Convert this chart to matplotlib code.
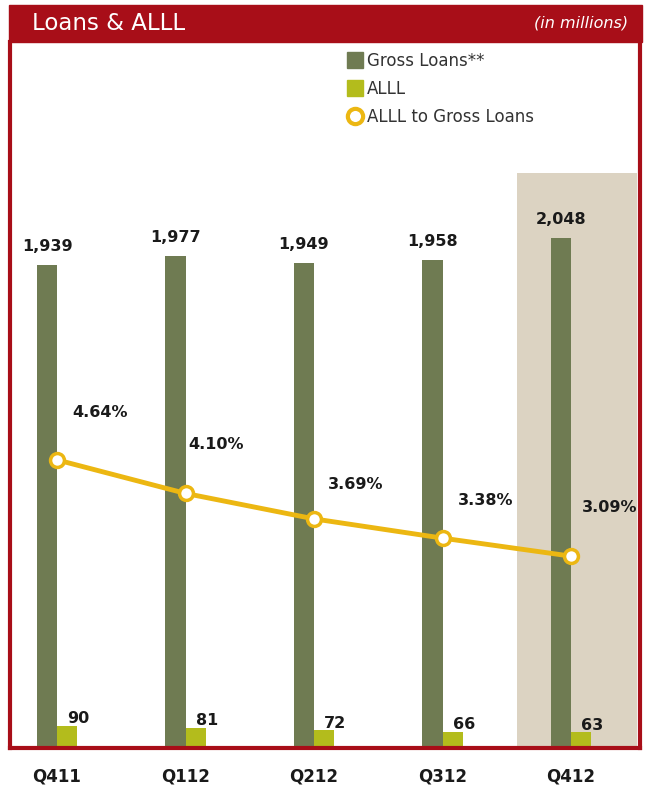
import matplotlib
matplotlib.use('Agg')
import matplotlib.pyplot as plt
from matplotlib.patches import Rectangle
from matplotlib.lines import Line2D
import numpy as np

# data
quarters = ['Q411', 'Q112', 'Q212', 'Q312', 'Q412']
gross_loans = [1939, 1977, 1949, 1958, 2048]
alll = [90, 81, 72, 66, 63]
alll_ratio = [4.64, 4.10, 3.69, 3.38, 3.09]

# colours
RED = '#A80E18'
OLIVE = '#6F7B52'
LIME = '#B3BC1C'
GOLD = '#ECB712'
BEIGE = '#DCD3C2'

plt.rcParams['font.family'] = ['DejaVu Sans']

W, H = 647, 788
fig = plt.figure(figsize=(W / 100, H / 100), dpi=100)
fig.patch.set_facecolor('white')

# plot area (pixels: x 10..640, y 42..748)
ax = fig.add_axes([10 / W, 40 / H, 630 / W, 706 / H])
x = np.arange(len(quarters))
w = 0.156

ax.set_xlim(-0.366, 4.537)
ax.set_ylim(0, 2835)

# highlight latest quarter
ax.axvspan(x[-1] - 0.42, x[-1] + 0.51, ymin=0, ymax=0.815, color=BEIGE, zorder=0, lw=0)

ax.bar(x - w / 2, gross_loans, width=w, color=OLIVE, zorder=2)
ax.bar(x + w / 2, alll, width=w, color=LIME, zorder=2)

for xi, v in zip(x, gross_loans):
    ax.annotate(f'{v:,}', (xi - w / 2, v), xytext=(0, 8), textcoords='offset points',
                ha='center', va='bottom', fontsize=11.5, fontweight='bold', color='#1a1a1a')
for xi, v in zip(x, alll):
    ax.annotate(f'{v}', (xi + w / 2, v), xytext=(0, 5), textcoords='offset points',
                ha='left', va='center', fontsize=11.5, fontweight='bold', color='#1a1a1a')

ax.set_xticks(x)
ax.set_xticklabels(quarters, fontsize=12, fontweight='bold', color='#1a1a1a')
ax.tick_params(axis='x', length=0, pad=14)
ax.set_yticks([])

for s in ['left', 'right', 'bottom']:
    ax.spines[s].set_color(RED)
    ax.spines[s].set_linewidth(3)
ax.spines['top'].set_visible(False)

# ratio line on a second scale
ax2 = ax.twinx()
ax2.set_ylim(0, 11.37)
ax2.set_yticks([])
for s in ax2.spines.values():
    s.set_visible(False)
ax2.plot(x, alll_ratio, color=GOLD, lw=3.5, marker='o', markersize=10,
         markerfacecolor='white', markeredgecolor=GOLD, markeredgewidth=2.5, zorder=3)

pct_offsets = [(31, 34), (22, 35), (30, 25), (31, 27), (28, 35)]
for xi, v, (dx, dy) in zip(x, alll_ratio, pct_offsets):
    ax2.annotate(f'{v:.2f}%', (xi, v), xytext=(dx, dy), textcoords='offset points',
                 ha='center', va='center', fontsize=11.5, fontweight='bold', color='#1a1a1a')

# header band
fig.patches.append(Rectangle((8.5 / W, (H - 42) / H), 633 / W, 37 / H,
                             transform=fig.transFigure, color=RED, zorder=0))
fig.text(32 / W, 1 - 24 / H, 'Loans & ALLL', color='white', fontsize=16.5, va='center', ha='left')
fig.text(628 / W, 1 - 23 / H, '(in millions)', color='white', fontsize=11.5,
         style='italic', va='center', ha='right')

# legend
handles = [
    Line2D([], [], marker='s', color=OLIVE, linestyle='none', markersize=11),
    Line2D([], [], marker='s', color=LIME, linestyle='none', markersize=11),
    Line2D([], [], marker='o', markerfacecolor='white', markeredgecolor=GOLD,
           markeredgewidth=3, linestyle='none', markersize=11),
]
leg = fig.legend(handles, ['Gross Loans**', 'ALLL', 'ALLL to Gross Loans'],
                 loc='upper left', bbox_to_anchor=(342 / W, 1 - 45 / H), frameon=False,
                 fontsize=12, handlelength=0.8, handletextpad=0.3, labelspacing=0.6,
                 borderaxespad=0)
for t in leg.get_texts():
    t.set_color('#333333')

fig.savefig('out.png', dpi=100)
